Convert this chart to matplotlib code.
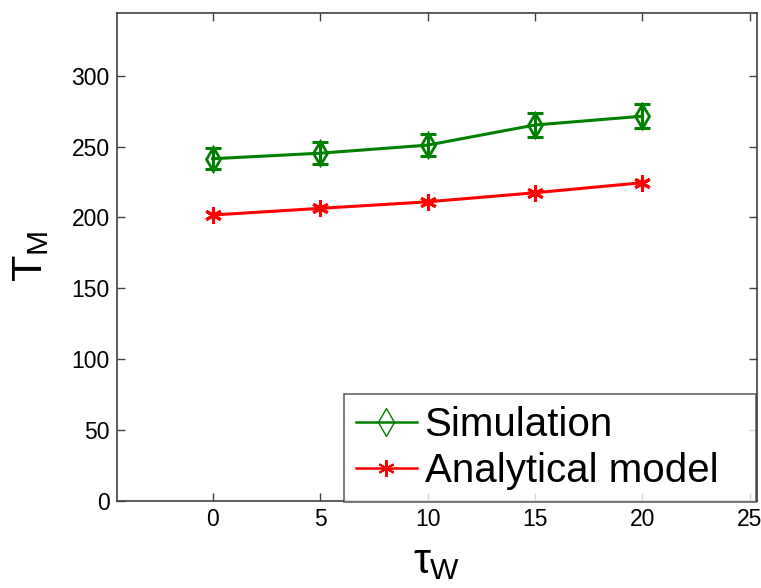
import matplotlib
matplotlib.use('Agg')
import matplotlib.pyplot as plt

plt.rcParams['font.family'] = ['Liberation Sans', 'DejaVu Sans']
plt.rcParams['mathtext.fontset'] = 'custom'
plt.rcParams['mathtext.rm'] = 'Liberation Sans'
plt.rcParams['mathtext.it'] = 'Liberation Sans'

tau_w = [0, 5, 10, 15, 20]
sim = [241.4, 245.3, 251.0, 265.2, 271.4]
sim_err = [7.5, 7.8, 7.6, 8.8, 8.5]
model = [201.7, 206.4, 211.0, 217.4, 224.5]

fig = plt.figure(figsize=(7.61, 5.88), dpi=100)
ax = fig.add_axes([0.1534, 0.148, 0.8413, 0.8304])

green = '#008000'
red = '#ff0000'

ax.errorbar(tau_w, sim, yerr=sim_err, fmt='none', ecolor=green,
            elinewidth=2.2, capsize=6, capthick=2.2)
l1, = ax.plot(tau_w, sim, color=green, lw=2.2, marker='d', markersize=12,
              markerfacecolor='none', markeredgecolor=green, markeredgewidth=2)
l2, = ax.plot(tau_w, model, color=red, lw=2.2, marker=(6, 2, 0), markersize=12,
              markeredgewidth=2.2)

ax.set_xlim(-4.46, 25.33)
ax.set_ylim(0, 344.4)
ax.set_xticks([0, 5, 10, 15, 20, 25])
ax.set_yticks([0, 50, 100, 150, 200, 250, 300])
ax.tick_params(direction='in', length=6, width=1, labelsize=16.5,
               top=True, right=True, color='#404040', pad=5)
for s in ax.spines.values():
    s.set_color('#404040')
    s.set_linewidth(1.2)

ax.set_ylabel(r'T$_\mathrm{M}$', fontsize=31, labelpad=15)
ax.set_xlabel(r'$\tau_\mathrm{W}$', fontsize=31, labelpad=8)

# legend uses thin marker lines like the original
h1 = plt.Line2D([], [], color=green, lw=1.8, marker='d', markersize=14,
                markerfacecolor='none', markeredgewidth=1)
h2 = plt.Line2D([], [], color=red, lw=1.8, marker=(6, 2, 0), markersize=12,
                markeredgewidth=1.5)
leg = ax.legend([h1, h2], ['Simulation', 'Analytical model'], loc='lower left',
                bbox_to_anchor=(0.355, -0.002, 0.6435, 0.215), mode='expand',
                fontsize=29, frameon=True, fancybox=False, handlelength=1.5,
                handletextpad=0.2, borderpad=0.3, labelspacing=0.2,
                borderaxespad=0)
leg.get_frame().set_edgecolor('#404040')
leg.get_frame().set_linewidth(1.2)

fig.savefig('out.png', dpi=100)
